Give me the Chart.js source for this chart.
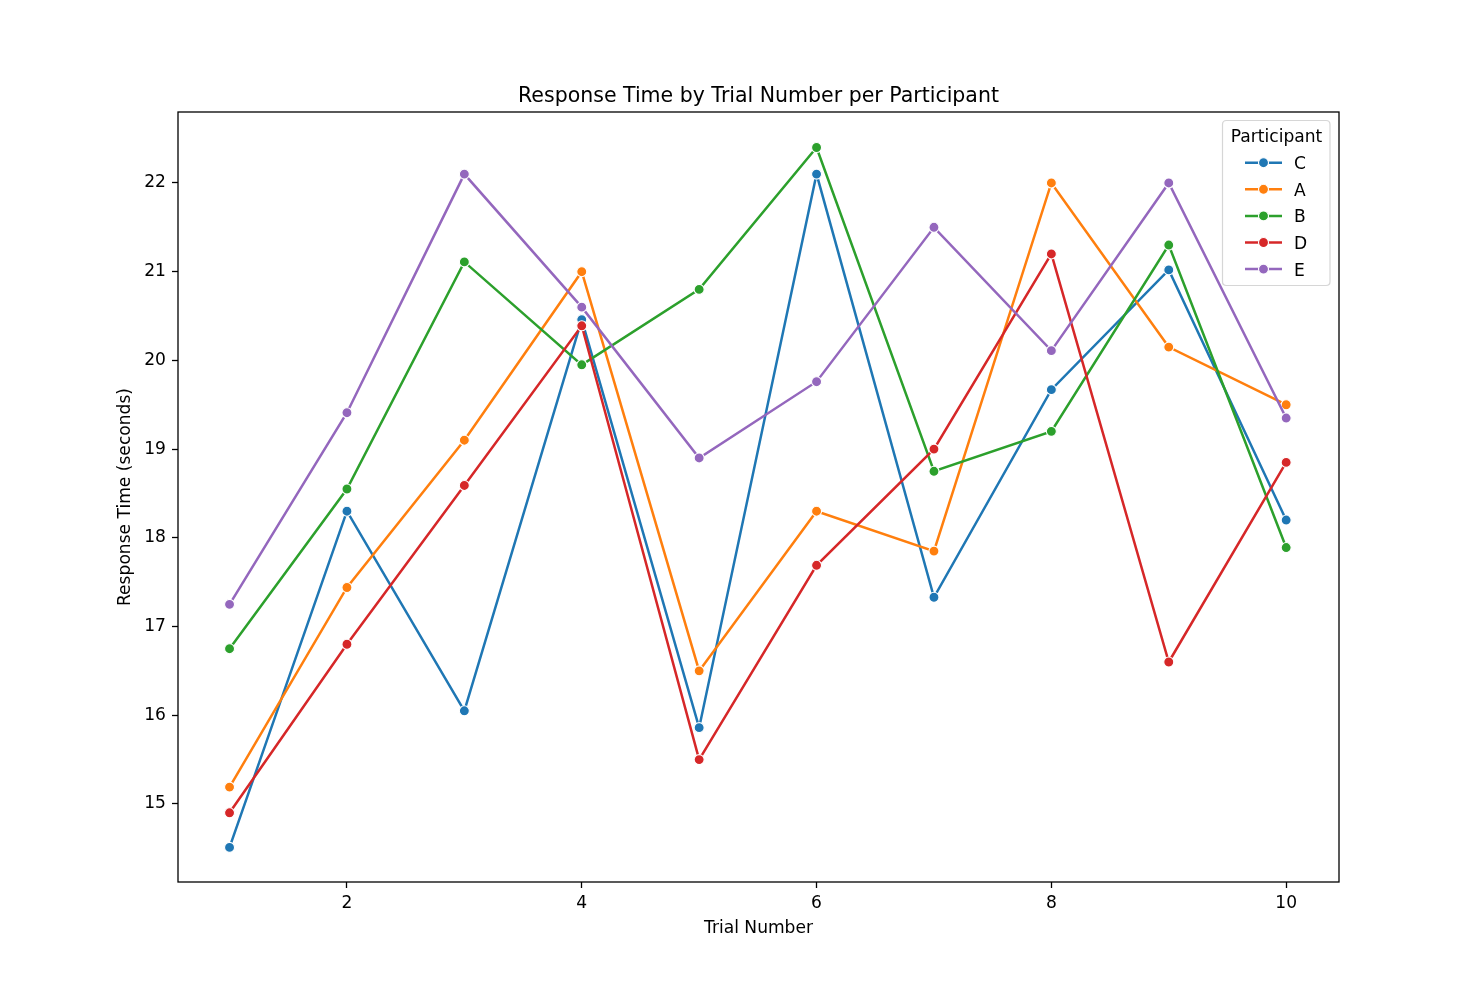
<!DOCTYPE html>
<html>
<head>
<meta charset="utf-8">
<script src="https://cdn.jsdelivr.net/npm/chart.js@4"></script>
<style>
html,body{margin:0;padding:0;background:#fff;}
#wrap{width:1480px;height:985px;position:relative;}
</style>
</head>
<body>
<div id="wrap"><canvas id="c" width="1480" height="985"></canvas></div>
<script>
const trials = [1,2,3,4,5,6,7,8,9,10];
const participants = ['C','A','B','D','E'];
const seriesC = [14.51,18.30,16.05,20.46,15.86,22.10,17.33,19.67,21.02,18.20];
const seriesA = [15.19,17.44,19.10,21.00,16.50,18.30,17.85,22.00,20.15,19.50];
const seriesB = [16.75,18.55,21.11,19.95,20.80,22.40,18.75,19.20,21.30,17.89];
const seriesD = [14.90,16.80,18.59,20.39,15.50,17.69,19.00,21.20,16.60,18.85];
const seriesE = [17.25,19.41,22.10,20.60,18.90,19.76,21.50,20.11,22.00,19.35];
const xTicks = [2,4,6,8,10];
const yTicks = [15,16,17,18,19,20,21,22];
const colors = ['#1f77b4','#ff7f0e','#2ca02c','#d62728','#9467bd'];
const titleText = 'Response Time by Trial Number per Participant';
const xTitle = 'Trial Number';
const yTitle = 'Response Time (seconds)';
const legendTitle = 'Participant';

const allSeries = [seriesC, seriesA, seriesB, seriesD, seriesE];
const FONT = '"DejaVu Sans", sans-serif';
const FS = 17.1;

const datasets = participants.map((p, i) => ({
  label: p,
  data: trials.map((t, j) => ({x: t, y: allSeries[i][j]})),
  borderColor: colors[i],
  backgroundColor: colors[i],
  pointBackgroundColor: colors[i],
  pointBorderColor: '#ffffff',
  pointBorderWidth: 1.1,
  pointRadius: 5,
  pointHoverRadius: 5,
  borderWidth: 2.5,
  tension: 0,
  fill: false,
  order: participants.length - i
}));

const decor = {
  id: 'decor',
  afterDraw(chart) {
    const ctx = chart.ctx;
    const a = chart.chartArea;
    ctx.save();
    // frame
    ctx.strokeStyle = '#000';
    ctx.lineWidth = 1.3;
    ctx.strokeRect(a.left, a.top, a.right - a.left, a.bottom - a.top);
    // title
    ctx.fillStyle = '#000';
    ctx.textAlign = 'center';
    ctx.textBaseline = 'middle';
    ctx.font = '20.5px ' + FONT;
    ctx.fillText(titleText, (a.left + a.right) / 2, 97);
    // axis titles
    ctx.font = FS + 'px ' + FONT;
    ctx.fillText(xTitle, (a.left + a.right) / 2, 929);
    ctx.save();
    ctx.translate(126, (a.top + a.bottom) / 2);
    ctx.rotate(-Math.PI / 2);
    ctx.fillText(yTitle, 0, 0);
    ctx.restore();
    // legend
    const lx = 1222.5, ly = 120.5, lw = 107.5, lh = 165, r = 4;
    ctx.beginPath();
    ctx.moveTo(lx + r, ly);
    ctx.lineTo(lx + lw - r, ly);
    ctx.quadraticCurveTo(lx + lw, ly, lx + lw, ly + r);
    ctx.lineTo(lx + lw, ly + lh - r);
    ctx.quadraticCurveTo(lx + lw, ly + lh, lx + lw - r, ly + lh);
    ctx.lineTo(lx + r, ly + lh);
    ctx.quadraticCurveTo(lx, ly + lh, lx, ly + lh - r);
    ctx.lineTo(lx, ly + r);
    ctx.quadraticCurveTo(lx, ly, lx + r, ly);
    ctx.closePath();
    ctx.fillStyle = 'rgba(255,255,255,0.8)';
    ctx.fill();
    ctx.strokeStyle = 'rgba(204,204,204,0.8)';
    ctx.lineWidth = 1.2;
    ctx.stroke();
    ctx.fillStyle = '#000';
    ctx.textAlign = 'center';
    ctx.font = FS + 'px ' + FONT;
    ctx.fillText(legendTitle, 1276.5, 138);
    chart.data.datasets.forEach((ds, i) => {
      const y = 162.7 + i * 26.6;
      ctx.strokeStyle = ds.borderColor;
      ctx.lineWidth = 2.5;
      ctx.beginPath();
      ctx.moveTo(1245, y);
      ctx.lineTo(1282, y);
      ctx.stroke();
      ctx.beginPath();
      ctx.arc(1263.5, y, 5, 0, Math.PI * 2);
      ctx.fillStyle = ds.borderColor;
      ctx.fill();
      ctx.strokeStyle = '#fff';
      ctx.lineWidth = 1.1;
      ctx.stroke();
      ctx.fillStyle = '#000';
      ctx.textAlign = 'left';
      ctx.fillText(ds.label, 1294, y + 2);
    });
    ctx.restore();
  }
};

new Chart(document.getElementById('c'), {
  type: 'line',
  data: { datasets },
  plugins: [decor],
  options: {
    responsive: false,
    animation: false,
    devicePixelRatio: 1,
    layout: { padding: { left: 0, top: 112, right: 141, bottom: 0 } },
    plugins: { legend: { display: false }, title: { display: false }, tooltip: { enabled: false } },
    scales: {
      x: {
        type: 'linear',
        min: 0.561,
        max: 10.45,
        afterBuildTicks(s) { s.ticks = xTicks.map(v => ({value: v})); },
        afterFit(s) { s.height = 103; },
        grid: { drawOnChartArea: false, drawTicks: true, tickLength: 6, color: '#000', tickWidth: 1.3 },
        border: { display: false },
        ticks: { color: '#000', font: { family: FONT, size: FS }, padding: 5, maxRotation: 0, autoSkip: false }
      },
      y: {
        type: 'linear',
        min: 14.12,
        max: 22.80,
        afterBuildTicks(s) { s.ticks = yTicks.map(v => ({value: v})); },
        afterFit(s) { s.width = 178; },
        grid: { drawOnChartArea: false, drawTicks: true, tickLength: 6, color: '#000', tickWidth: 1.3 },
        border: { display: false },
        ticks: { color: '#000', font: { family: FONT, size: FS }, padding: 6, autoSkip: false }
      }
    }
  }
});
</script>
</body>
</html>
